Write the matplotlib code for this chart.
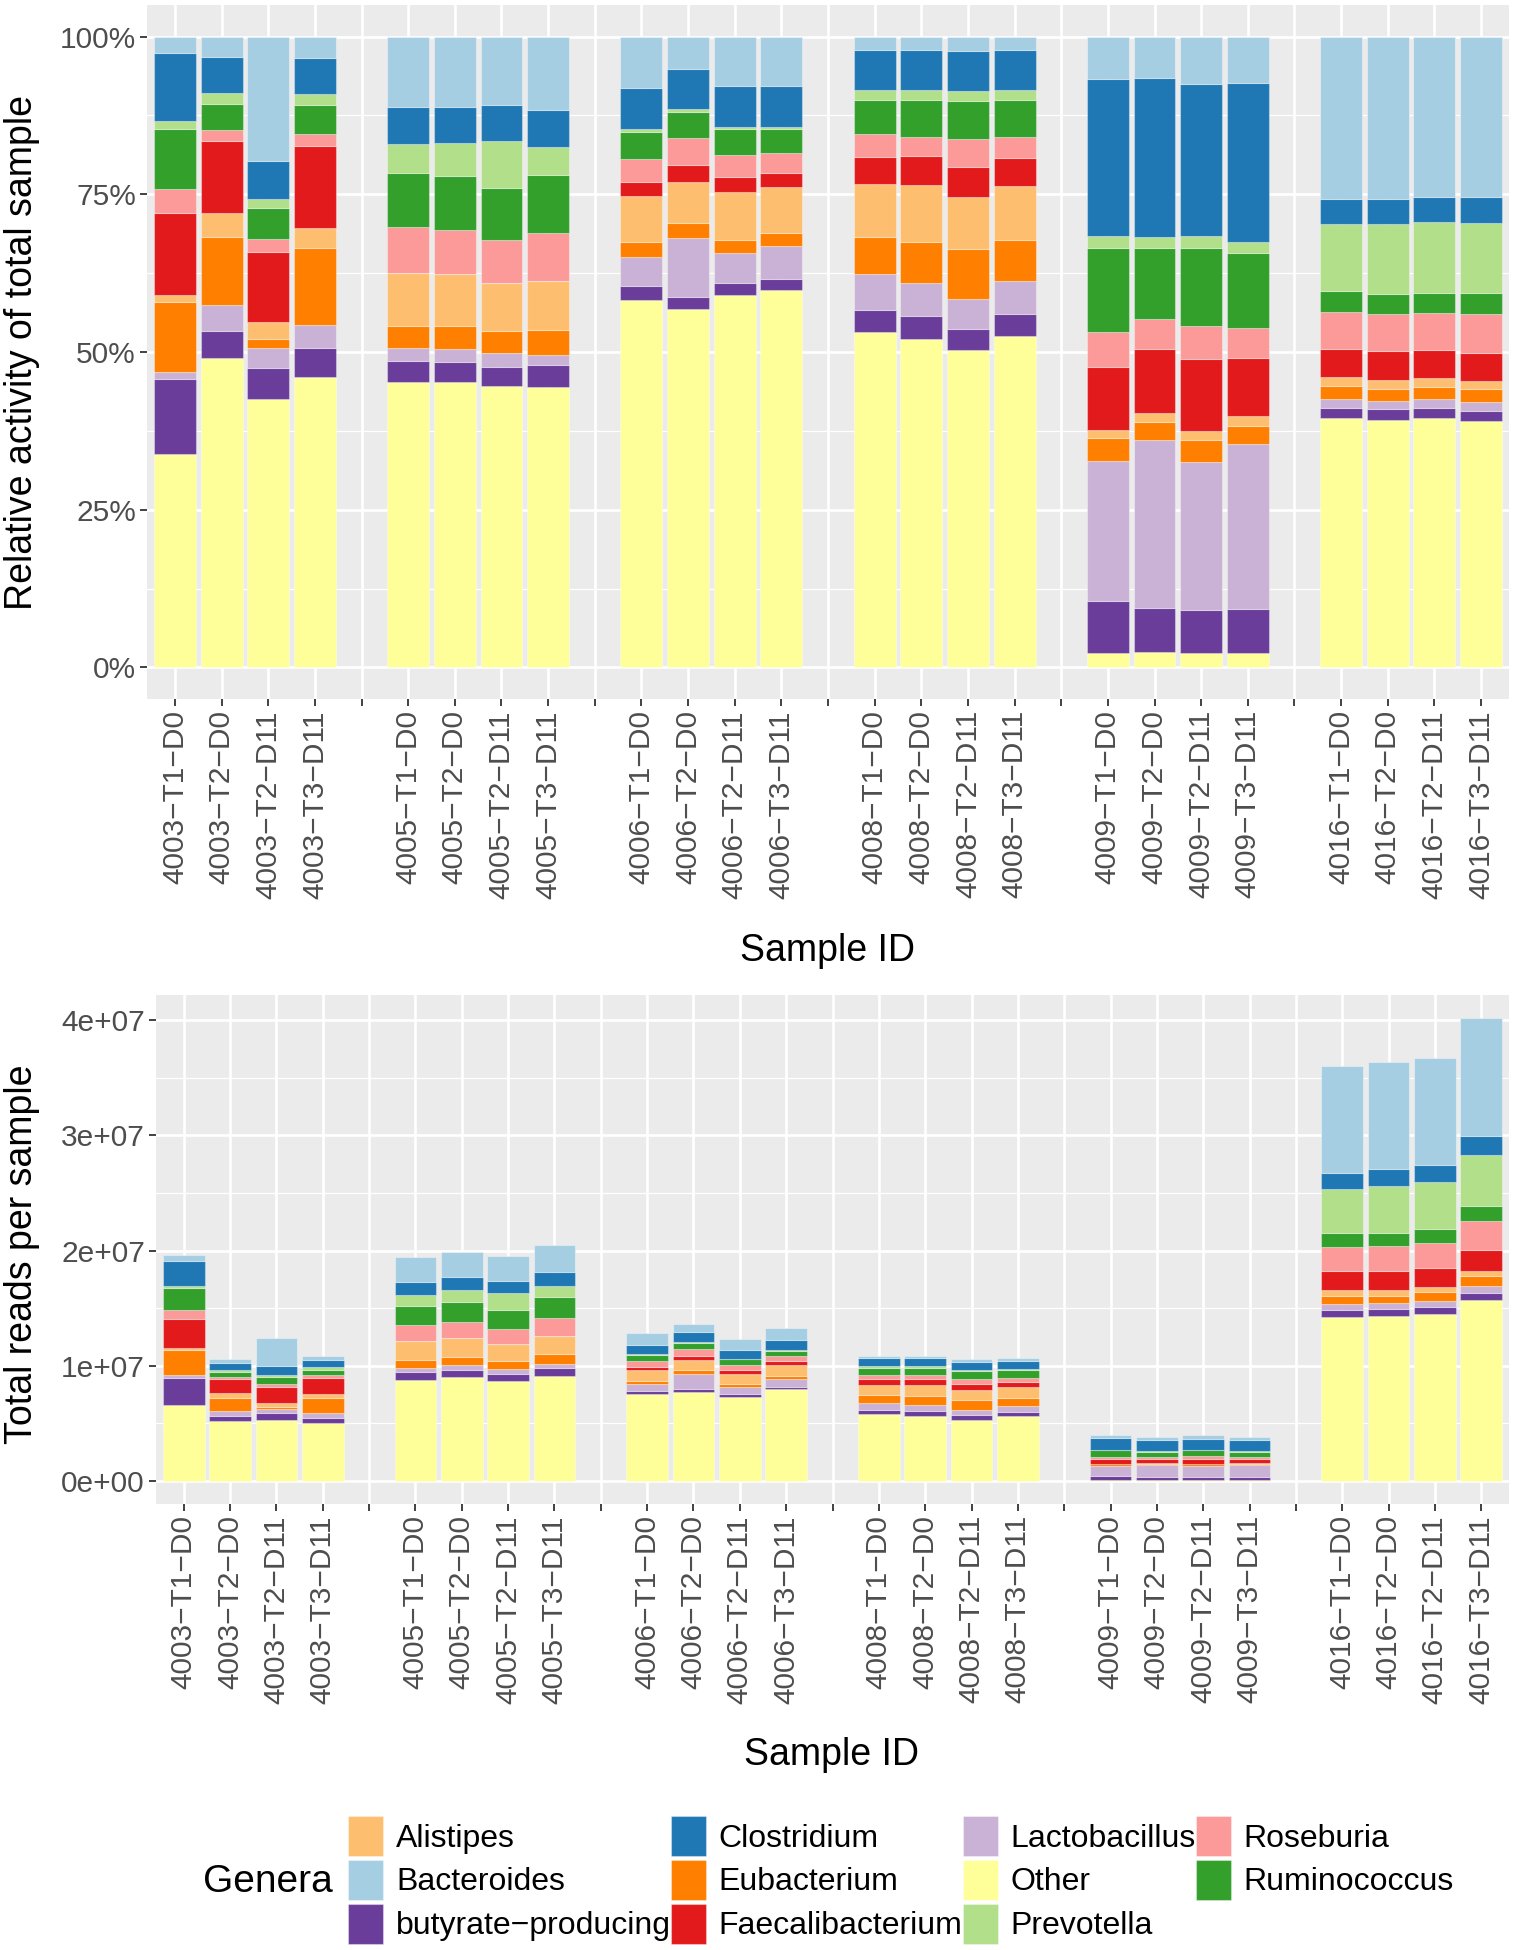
import matplotlib
matplotlib.use("Agg")
import matplotlib.pyplot as plt
import numpy as np
from matplotlib.patches import Patch
from matplotlib.ticker import FixedLocator, FuncFormatter

plt.rcParams['font.family'] = ['Liberation Sans', 'DejaVu Sans']

# ---------------- data ----------------
subjects = ["4003", "4005", "4006", "4008", "4009", "4016"]
timepoints = ["T1-D0", "T2-D0", "T2-D11", "T3-D11"]
samples = [f"{s}-{t}" for s in subjects for t in timepoints]

# total reads per sample (millions)
total_reads_m = [19.58, 10.56, 12.39, 10.85,
                 19.41, 19.90, 19.50, 20.51,
                 12.88, 13.61, 12.36, 13.26,
                 10.88, 10.88, 10.59, 10.65,
                 3.97, 3.83, 3.97, 3.80,
                 36.03, 36.41, 36.76, 40.18]

# share of each genus in each sample (percent)
other = [33.8, 49.1, 42.5, 46.1, 45.2, 45.2, 44.6, 44.4, 58.3, 56.8, 59.1, 59.9,
         53.2, 52.1, 50.3, 52.6, 2.3, 2.5, 2.3, 2.3, 39.5, 39.2, 39.5, 39.1]
butyrate = [11.9, 4.2, 4.9, 4.6, 3.4, 3.2, 3.1, 3.5, 2.1, 1.9, 1.8, 1.7,
            3.5, 3.6, 3.3, 3.4, 8.2, 7.0, 6.8, 7.0, 1.7, 1.7, 1.6, 1.6]
lactobacillus = [1.1, 4.2, 3.2, 3.6, 2.0, 2.0, 2.2, 1.6, 4.7, 9.3, 4.8, 5.2,
                 5.7, 5.2, 4.8, 5.3, 22.3, 26.5, 23.5, 26.1, 1.4, 1.4, 1.5, 1.4]
eubacterium = [11.2, 10.7, 1.5, 12.2, 3.6, 3.7, 3.4, 4.0, 2.3, 2.5, 2.1, 2.1,
               5.9, 6.6, 8.0, 6.5, 3.6, 2.9, 3.5, 2.9, 2.0, 1.9, 1.9, 2.1]
alistipes = [1.1, 3.8, 2.7, 3.2, 8.4, 8.2, 7.6, 7.8, 7.3, 6.4, 7.6, 7.2,
             8.3, 8.9, 8.1, 8.5, 1.3, 1.5, 1.4, 1.5, 1.4, 1.4, 1.3, 1.2]
faecalibacterium = [12.9, 11.5, 11.0, 12.9, 0, 0, 0, 0, 2.3, 2.8, 2.3, 2.2,
                    4.3, 4.7, 4.8, 4.4, 9.9, 10.1, 11.4, 9.2, 4.5, 4.5, 4.5, 4.5]
roseburia = [3.8, 1.7, 2.1, 1.9, 7.2, 7.1, 6.8, 7.6, 3.6, 4.2, 3.6, 3.2,
             3.6, 3.0, 4.5, 3.3, 5.6, 4.7, 5.2, 4.8, 5.8, 5.9, 5.9, 6.2]
ruminococcus = [9.6, 4.1, 4.9, 4.6, 8.5, 8.5, 8.3, 9.1, 4.2, 4.1, 4.0, 3.8,
                5.5, 5.9, 6.0, 6.0, 13.3, 11.3, 12.4, 11.9, 3.4, 3.2, 3.2, 3.3]
prevotella = [1.2, 1.7, 1.4, 1.8, 4.7, 5.2, 7.5, 4.5, 0.5, 0.5, 0.3, 0.3,
              1.5, 1.5, 1.5, 1.5, 1.9, 1.8, 1.9, 1.8, 10.6, 11.1, 11.2, 11.1]
clostridium = [10.8, 5.8, 6.0, 5.7, 5.8, 5.8, 5.6, 5.8, 6.6, 6.4, 6.5, 6.5,
               6.4, 6.4, 6.4, 6.4, 24.8, 25.1, 24.1, 25.2, 4.0, 4.0, 4.0, 4.1]
bacteroides = [2.6, 3.2, 19.8, 3.4, 11.2, 11.1, 10.9, 11.7, 8.1, 5.1, 7.9, 7.9,
               2.1, 2.1, 2.3, 2.1, 6.8, 6.6, 7.5, 7.3, 25.7, 25.7, 25.4, 25.4]

shares = {
    "Other": other,
    "butyrate-producing": butyrate,
    "Lactobacillus": lactobacillus,
    "Eubacterium": eubacterium,
    "Alistipes": alistipes,
    "Faecalibacterium": faecalibacterium,
    "Roseburia": roseburia,
    "Ruminococcus": ruminococcus,
    "Prevotella": prevotella,
    "Clostridium": clostridium,
    "Bacteroides": bacteroides,
}
stack_order = list(shares.keys())  # bottom -> top
legend_order = ["Alistipes", "Bacteroides", "butyrate-producing", "Clostridium",
                "Eubacterium", "Faecalibacterium", "Lactobacillus", "Other",
                "Prevotella", "Roseburia", "Ruminococcus"]
colors = {
    "Alistipes": "#FDBF6F", "Bacteroides": "#A6CEE3", "butyrate-producing": "#6A3D9A",
    "Clostridium": "#1F78B4", "Eubacterium": "#FF7F00", "Faecalibacterium": "#E31A1C",
    "Lactobacillus": "#CAB2D6", "Other": "#FFFF99", "Prevotella": "#B2DF8A",
    "Roseburia": "#FB9A99", "Ruminococcus": "#33A02C",
}

# ---------------- layout ----------------
W, H = 1514, 1950
fig = plt.figure(figsize=(W / 100, H / 100), dpi=100)

def fr(x0, y0, x1, y1):
    return [x0 / W, 1 - y1 / H, (x1 - x0) / W, (y1 - y0) / H]

ax1 = fig.add_axes(fr(147, 5, 1509, 699))
ax2 = fig.add_axes(fr(156, 995, 1509, 1504))

n_groups = len(subjects)
n_per = len(timepoints)
slots = n_groups * (n_per + 1) - 1
xpos = np.array([g * (n_per + 1) + j for g in range(n_groups) for j in range(n_per)])
tick_labels = [""] * slots
for p, s in zip(xpos, samples):
    tick_labels[p] = s.replace("-", "\u2212")

share_arr = {k: np.array(v, float) for k, v in shares.items()}
row_sum = sum(share_arr.values())
tot = np.array(total_reads_m) * 1e6

edge = (1, 1, 1, 0.35)
for ax, mode in ((ax1, "fill"), (ax2, "count")):
    bottom = np.zeros(len(samples))
    for g in stack_order:
        frac = share_arr[g] / row_sum
        vals = frac if mode == "fill" else frac * tot
        ax.bar(xpos, vals, width=0.9, bottom=bottom, color=colors[g],
               edgecolor=edge, linewidth=0.8, zorder=3)
        bottom = bottom + vals
    ax.set_facecolor("#EBEBEB")
    for sp in ax.spines.values():
        sp.set_visible(False)
    ax.set_xlim(-0.6, slots - 1 + 0.6)
    ax.set_xticks(np.arange(slots))
    ax.set_xticklabels(tick_labels, rotation=90, fontsize=21.5, color="#4D4D4D")
    ax.tick_params(axis="both", which="major", length=5, width=1.3, color="#333333",
                   labelsize=21.5, labelcolor="#4D4D4D", pad=3)
    ax.tick_params(axis="both", which="minor", length=0)
    ax.grid(which="major", color="white", linewidth=1.9, zorder=0)
    ax.grid(which="minor", axis="y", color="white", linewidth=0.9, zorder=0)
    ax.set_axisbelow(True)

ax1.set_ylim(-0.05, 1.05)
ax1.yaxis.set_major_locator(FixedLocator([0, 0.25, 0.5, 0.75, 1.0]))
ax1.yaxis.set_minor_locator(FixedLocator([0.125, 0.375, 0.625, 0.875]))
ax1.yaxis.set_major_formatter(FuncFormatter(lambda v, p: f"{int(round(v * 100))}%"))

ymax = tot.max()
ax2.set_ylim(-0.05 * ymax, 1.05 * ymax)
ax2.yaxis.set_major_locator(FixedLocator([0, 1e7, 2e7, 3e7, 4e7]))
ax2.yaxis.set_minor_locator(FixedLocator([0.5e7, 1.5e7, 2.5e7, 3.5e7]))
ax2.yaxis.set_major_formatter(FuncFormatter(lambda v, p: f"{v:.0e}"))

# axis titles
fig.text(22 / W, 1 - 352 / H, "Relative activity of total sample", rotation=90,
         ha="center", va="center", fontsize=27)
fig.text(828 / W, 1 - 951 / H, "Sample ID", ha="center", va="center", fontsize=27)
fig.text(22 / W, 1 - 1254 / H, "Total reads per sample", rotation=90,
         ha="center", va="center", fontsize=27)
fig.text(832 / W, 1 - 1755 / H, "Sample ID", ha="center", va="center", fontsize=27)

# legend
handles = [Patch(facecolor=colors[g], edgecolor=edge, linewidth=0.8) for g in legend_order]
labels = [g.replace("-", "\u2212") for g in legend_order]
fig.legend(handles, labels, ncol=4, loc="upper left",
           bbox_to_anchor=(348 / W, 1 - 1816 / H), frameon=False, fontsize=23,
           handlelength=1.1, handleheight=1.55, handletextpad=0.4,
           columnspacing=0.0, labelspacing=0.12, borderpad=0, borderaxespad=0)
fig.text(333 / W, 1 - 1882 / H, "Genera", ha="right", va="center", fontsize=28)

fig.savefig("out.png", dpi=100)
